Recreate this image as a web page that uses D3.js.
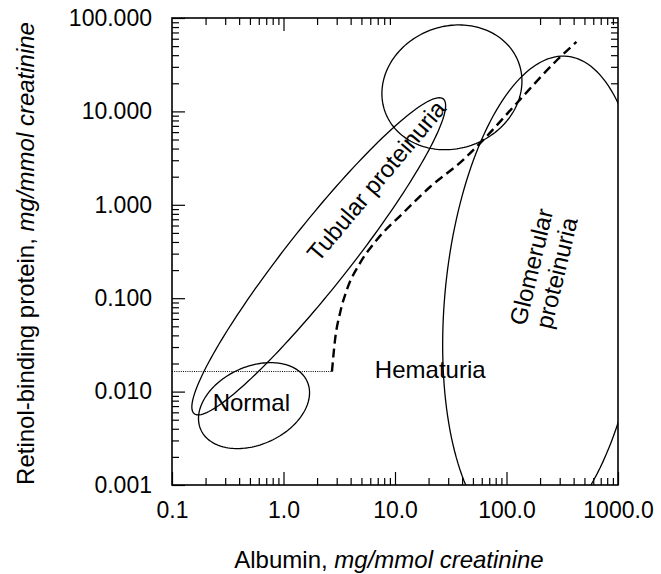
<!DOCTYPE html>
<html>
<head>
<meta charset="utf-8">
<script src="https://cdn.jsdelivr.net/npm/d3@7"></script>
<style>
body { margin: 0; background: #fff; }
svg text { font-family: "Liberation Sans", Arial, Helvetica, sans-serif; fill: #000; }
</style>
</head>
<body>
<svg id="chart" width="661" height="574"></svg>
<script>
// regions, as ellipses in log-log space (centre, half extents in decades, lean)
var regionNames = ["Normal", "Tubular", "Mixed", "Glomerular"];
var regionAlbumin = [0.544, 2.07, 32.4, 215];
var regionRbp = [0.00708, 0.281, 18.1, 0.101];
var regionSpanX = [0.498, 1.138, 0.628, 0.905];
var regionSpanY = [0.46, 1.698, 0.668, 2.588];
var regionLean = [0.30, 0.95, 0.10, 0.195];

// dashed boundary (hematuria limit) and dotted cut-off
var limitAlbumin = [2.72, 2.9, 3.22, 3.7, 4.88, 6.88, 11.85, 20.7, 40.9, 61.9, 124, 284, 424];
var limitRbp = [0.0164, 0.036, 0.070, 0.123, 0.24, 0.423, 0.82, 1.56, 3.03, 4.96, 12.3, 35.5, 55.4];
var cutoffRbp = 0.0164;

var xTicks = [0.1, 1, 10, 100, 1000];
var yTicks = [0.001, 0.01, 0.1, 1, 10, 100];

var margin = {left: 172, top: 18};
var W = 446, H = 467;

var svg = d3.select("#chart");
var g = svg.append("g").attr("transform", "translate(" + margin.left + "," + margin.top + ")");

var x = d3.scaleLog().domain([0.1, 1000]).range([0, W]);
var y = d3.scaleLog().domain([0.001, 100]).range([H, 0]);

function minors(major) {
    var out = [];
    for (var i = 0; i < major.length - 1; i++)
        for (var m = 2; m <= 9; m++) out.push(major[i] * m);
    return out;
}
var xMinor = minors(xTicks);
var yMinor = minors(yTicks);

svg.append("defs").append("clipPath").attr("id", "plotclip")
    .append("rect").attr("width", W).attr("height", H);

function styleAxis(sel) {
    sel.select(".domain").remove();
    sel.selectAll("line").attr("stroke-width", 1.2);
    sel.attr("font-size", 23).attr("font-family", null);
}

// bottom
g.append("g").attr("transform", "translate(0," + H + ")")
    .call(d3.axisBottom(x).tickValues(xMinor).tickSize(-7).tickFormat(""))
    .call(styleAxis);
g.append("g").attr("transform", "translate(0," + H + ")")
    .call(d3.axisBottom(x).tickValues(xTicks).tickSize(-13).tickPadding(17).tickFormat(d3.format(".1f")))
    .call(styleAxis);
// top
g.append("g")
    .call(d3.axisTop(x).tickValues(xMinor.filter(function(v){ return v < 10 || v >= 200; })).tickSize(-7).tickFormat(""))
    .call(styleAxis);
g.append("g")
    .call(d3.axisTop(x).tickValues([1]).tickSize(-13).tickFormat(""))
    .call(styleAxis);
// left
g.append("g")
    .call(d3.axisLeft(y).tickValues(yMinor).tickSize(-7).tickFormat(""))
    .call(styleAxis);
g.append("g")
    .call(d3.axisLeft(y).tickValues(yTicks).tickSize(-13).tickPadding(20).tickFormat(d3.format(".3f")))
    .call(styleAxis);
// right
g.append("g").attr("transform", "translate(" + W + ",0)")
    .call(d3.axisRight(y).tickValues(yMinor.filter(function(v){ return v >= 20; })).tickSize(-7).tickFormat(""))
    .call(styleAxis);

// regions
function ellipsePoints(i) {
    var lx = Math.log10(regionAlbumin[i]), ly = Math.log10(regionRbp[i]);
    var k = regionLean[i], s = Math.sqrt(1 - k * k);
    return d3.range(0, 360, 2).map(function(a) {
        var t = a * Math.PI / 180;
        return [Math.pow(10, lx + regionSpanX[i] * Math.cos(t)),
                Math.pow(10, ly + regionSpanY[i] * (k * Math.cos(t) + s * Math.sin(t)))];
    });
}
var regionLine = d3.line().x(function(d){ return x(d[0]); }).y(function(d){ return y(d[1]); })
    .curve(d3.curveLinearClosed);

g.append("g").attr("clip-path", "url(#plotclip)")
    .selectAll("path.region")
    .data(regionNames)
    .enter()
    .append("path")
    .attr("class", "region")
    .attr("d", function(d, i){ return regionLine(ellipsePoints(i)); })
    .attr("fill", "none")
    .attr("stroke", "#000")
    .attr("stroke-width", 1.3);

// dotted cut-off
g.append("line")
    .attr("x1", x(0.1)).attr("x2", x(limitAlbumin[0]))
    .attr("y1", y(cutoffRbp)).attr("y2", y(cutoffRbp))
    .attr("stroke", "#000").attr("stroke-width", 1).attr("stroke-dasharray", "1,1.2");

// dashed limit
var limitLine = d3.line().x(function(d){ return x(d); }).y(function(d, i){ return y(limitRbp[i]); })
    .curve(d3.curveMonotoneX);
g.append("path")
    .attr("d", limitLine(limitAlbumin))
    .attr("fill", "none").attr("stroke", "#000")
    .attr("stroke-width", 2.4).attr("stroke-dasharray", "9,5");

// frame
g.append("rect").attr("width", W).attr("height", H)
    .attr("fill", "none").attr("stroke", "#000").attr("stroke-width", 1.6);

// region labels
g.append("text").attr("x", x(0.515)).attr("y", y(0.00626))
    .attr("text-anchor", "middle").attr("font-size", 24).text("Normal");
g.append("text").attr("x", x(20.7)).attr("y", y(0.01402))
    .attr("text-anchor", "middle").attr("font-size", 24).text("Hematuria");
g.append("text")
    .attr("transform", "translate(" + x(6.78) + "," + y(1.81) + ") rotate(-50)")
    .attr("text-anchor", "middle").attr("dominant-baseline", "central")
    .attr("font-size", 24).text("Tubular proteinuria");
var glom = g.append("text")
    .attr("transform", "translate(" + x(214) + "," + y(0.2018) + ") rotate(-76.5)")
    .attr("text-anchor", "middle").attr("dominant-baseline", "central").attr("font-size", 24);
glom.append("tspan").attr("x", 0).attr("y", -13).text("Glomerular");
glom.append("tspan").attr("x", 0).attr("y", 13).text("proteinuria");

// axis titles
var xt = svg.append("text").attr("x", 389).attr("y", 568)
    .attr("text-anchor", "middle").attr("font-size", 24);
xt.append("tspan").text("Albumin, ");
xt.append("tspan").attr("font-style", "italic").text("mg/mmol creatinine");

var yt = svg.append("text")
    .attr("transform", "translate(34," + (margin.top + H / 2 + 2) + ") rotate(-90)")
    .attr("text-anchor", "middle").attr("font-size", 24);
yt.append("tspan").text("Retinol-binding protein, ");
yt.append("tspan").attr("font-style", "italic").text("mg/mmol creatinine");
</script>
</body>
</html>
